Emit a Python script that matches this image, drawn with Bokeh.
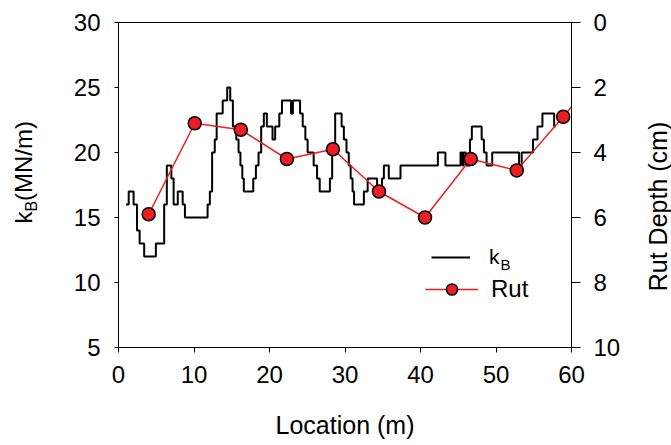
from bokeh.plotting import figure
from bokeh.layouts import row
from bokeh.models import Range1d, LinearAxis, Label, Legend, LegendItem, FixedTicker
from bokeh.embed import file_html
from bokeh.resources import INLINE

# ---- data ----
kb_loc = [1.0, 1.35, 2.0, 2.45, 2.8, 3.4, 4.95, 6.05, 6.4, 7.0, 7.3, 7.85, 8.5, 8.8,
          11.8, 12.1, 12.4, 12.75, 13.0, 13.8, 14.4, 14.8, 15.15, 15.6, 15.9, 16.15,
          16.4, 16.6, 17.85, 18.2, 18.55, 18.9, 19.25, 19.65, 20.4, 20.75, 21.3, 21.65,
          22.85, 23.1, 24.05, 24.4, 24.75, 25.05, 25.85, 26.3, 26.65, 28.0, 28.3, 28.7,
          29.55, 29.85, 30.2, 30.5, 30.75, 31.0, 31.2, 32.5, 33.0, 34.25, 34.9, 35.15,
          35.8, 37.35, 42.3, 43.3, 45.3, 45.55, 45.7, 46.0, 46.55, 46.8, 48.1, 48.4,
          48.75, 49.5, 53.05, 53.4, 54.9, 55.5, 56.15, 57.7, 57.9]
kb_val = [16, 17, 16, 14, 13, 12, 13, 16, 19, 18, 16, 17, 16, 15,
          16, 17, 20, 21, 23, 24, 25, 24, 22, 21, 20, 19,
          18, 17, 18, 19, 20, 22, 23, 22, 21, 22, 23, 24,
          23, 24, 23, 22, 21, 20, 19, 18, 17, 18, 20, 23,
          22, 21, 20, 19, 18, 17, 16, 17, 18, 17, 18, 19,
          18, 19, 20, 19, 20, 19, 20, 19, 21, 22, 21, 20,
          19, 20, 19, 20, 21, 22, 23, 22, 22]

rut_loc = [4.0, 10.1, 16.2, 22.3, 28.4, 34.5, 40.6, 46.65, 52.75, 58.9, 65.0]
rut_depth = [5.9, 3.1, 3.3, 4.2, 3.9, 5.2, 6.0, 4.2, 4.55, 2.9, 1.2]

x_ticks = [0, 10, 20, 30, 40, 50, 60]
kb_ticks = [5, 10, 15, 20, 25, 30]
rut_ticks = [0, 2, 4, 6, 8, 10]

FONT = "Liberation Sans"
RED = "#ee1d23"
H = 445
TOP, BOTTOM = 22, 347   # frame edges (the side panels' frames align with these)

# ---- main plot ----
p = figure(width=596, height=H, output_backend="svg", toolbar_location=None,
           x_range=Range1d(0, 60), y_range=Range1d(5, 30),
           min_border_left=78, min_border_right=65, min_border_top=TOP,
           min_border_bottom=H - BOTTOM)
p.extra_y_ranges = {"rut": Range1d(start=10, end=0)}
p.grid.visible = False
p.outline_line_color = "black"
p.outline_line_width = 1
p.background_fill_color = "white"
p.border_fill_color = "white"

xa = p.xaxis[0]
xa.ticker = FixedTicker(ticks=x_ticks)
ya = p.yaxis[0]
ya.ticker = FixedTicker(ticks=kb_ticks)
ra = LinearAxis(y_range_name="rut", ticker=FixedTicker(ticks=rut_ticks))
p.add_layout(ra, "right")

for ax in (xa, ya, ra):
    ax.axis_line_color = "black"
    ax.axis_line_width = 1
    ax.major_tick_line_color = "black"
    ax.major_tick_line_width = 1
    ax.minor_tick_line_color = None
    ax.major_tick_in = 0
    ax.major_label_text_font = FONT
    ax.major_label_text_font_size = "24px"
    ax.major_label_text_color = "black"
    ax.axis_label_text_font = FONT
    ax.axis_label_text_font_size = "25px"
    ax.axis_label_text_font_style = "normal"
    ax.axis_label_text_color = "black"

xa.major_tick_out = 5
xa.major_label_standoff = 13
xa.axis_label = "Location (m)"
xa.axis_label_standoff = 25
ya.major_tick_out = 4
ya.major_label_standoff = 14
ra.major_tick_out = 9
ra.major_label_standoff = 13

kb_r = p.step(kb_loc, kb_val, mode="after", line_color="black", line_width=2)
rut_line = p.line(rut_loc, rut_depth, y_range_name="rut", line_color=RED, line_width=1.5)
rut_pts = p.scatter(rut_loc, rut_depth, y_range_name="rut", size=13,
                    fill_color=RED, line_color="black", line_width=1.5)

leg_common = dict(orientation="vertical", padding=0, margin=0, glyph_height=28,
                  label_height=28, border_line_alpha=0, background_fill_alpha=0,
                  label_text_font=FONT, label_text_color="black")
leg1 = Legend(items=[LegendItem(label="k", renderers=[kb_r])],
              location=(313, 76), glyph_width=39, label_standoff=19,
              label_text_font_size="21px", **leg_common)
leg2 = Legend(items=[LegendItem(label="Rut", renderers=[rut_line, rut_pts])],
              location=(307, 44), glyph_width=53, label_standoff=13,
              label_text_font_size="24px", **leg_common)
p.add_layout(leg1)
p.add_layout(leg2)
p.add_layout(Label(x=382, y=83, x_units="screen", y_units="screen", text="B",
                   text_font=FONT, text_font_size="15px",
                   text_baseline="middle", text_align="left", text_color="black"))

# ---- side title panels; y range given in page pixels (top-down) ----
def side_panel(w):
    f = figure(width=w, height=H, output_backend="svg", toolbar_location=None,
               x_range=Range1d(0, w), y_range=Range1d(start=BOTTOM, end=TOP),
               x_axis_type=None, y_axis_type=None, min_border_left=0,
               min_border_right=0, min_border_top=TOP, min_border_bottom=H - BOTTOM,
               outline_line_color=None)
    f.border_fill_color = "white"
    f.background_fill_color = "white"
    return f

left = side_panel(40)
left.add_layout(Label(x=23, y=223, text="k", angle=90, angle_units="deg",
                      text_font=FONT, text_font_size="24px", text_align="left",
                      text_baseline="middle", text_color="black"))
left.add_layout(Label(x=31, y=211, text="B", angle=90, angle_units="deg",
                      text_font=FONT, text_font_size="16px", text_align="left",
                      text_baseline="middle", text_color="black"))
left.add_layout(Label(x=23, y=200.5, text="(MN/m)", angle=90, angle_units="deg",
                      text_font=FONT, text_font_size="24px", text_align="left",
                      text_baseline="middle", text_color="black"))

right = side_panel(35)
right.add_layout(Label(x=21, y=206, text="Rut Depth (cm)", angle=90, angle_units="deg",
                       text_font=FONT, text_font_size="25px", text_align="center",
                       text_baseline="middle", text_color="black"))

layout = row(left, p, right, spacing=0)
open("out.html", "w").write(file_html(layout, INLINE))
